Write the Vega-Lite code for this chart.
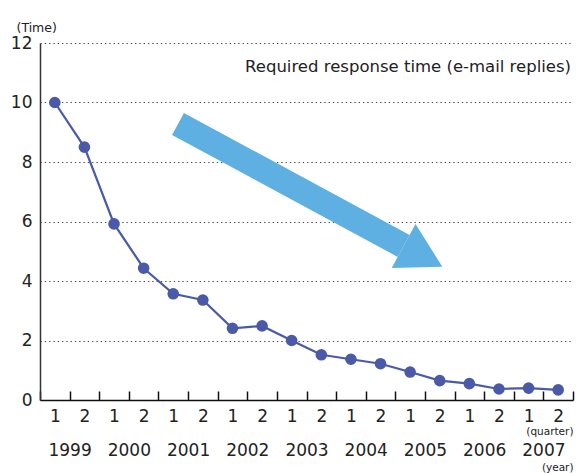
{
  "$schema": "https://vega.github.io/schema/vega-lite/v6.json",
  "width": 533,
  "height": 357,
  "autosize": "none",
  "padding": {"left": 40, "top": 43, "right": 8, "bottom": 73},
  "background": "white",
  "config": {"view": {"stroke": null}, "font": "DejaVu Sans"},
  "data": {"values": [
    {"i": 0, "year": 1999, "quarter": 1, "value": 10.0},
    {"i": 1, "year": 1999, "quarter": 2, "value": 8.5},
    {"i": 2, "year": 2000, "quarter": 1, "value": 5.92},
    {"i": 3, "year": 2000, "quarter": 2, "value": 4.43},
    {"i": 4, "year": 2001, "quarter": 1, "value": 3.57},
    {"i": 5, "year": 2001, "quarter": 2, "value": 3.36},
    {"i": 6, "year": 2002, "quarter": 1, "value": 2.41},
    {"i": 7, "year": 2002, "quarter": 2, "value": 2.49},
    {"i": 8, "year": 2003, "quarter": 1, "value": 2.0},
    {"i": 9, "year": 2003, "quarter": 2, "value": 1.52},
    {"i": 10, "year": 2004, "quarter": 1, "value": 1.37},
    {"i": 11, "year": 2004, "quarter": 2, "value": 1.22},
    {"i": 12, "year": 2005, "quarter": 1, "value": 0.94},
    {"i": 13, "year": 2005, "quarter": 2, "value": 0.65},
    {"i": 14, "year": 2006, "quarter": 1, "value": 0.55},
    {"i": 15, "year": 2006, "quarter": 2, "value": 0.37},
    {"i": 16, "year": 2007, "quarter": 1, "value": 0.4},
    {"i": 17, "year": 2007, "quarter": 2, "value": 0.34}
  ]},
  "resolve": {"axis": {"x": "independent", "y": "independent"}},
  "layer": [
    {
      "mark": {"type": "line", "color": "#4a5aa8", "strokeWidth": 2.2},
      "encoding": {
        "x": {
          "field": "i", "type": "quantitative",
          "scale": {"domain": [-0.5, 17.5], "nice": false, "zero": false},
          "axis": {
            "orient": "bottom",
            "values": [0,1,2,3,4,5,6,7,8,9,10,11,12,13,14,15,16,17],
            "labelExpr": "datum.value % 2 == 0 ? '1' : '2'",
            "grid": false, "ticks": false, "tickSize": 0,
            "domain": true, "domainColor": "#111", "domainWidth": 1.5,
            "labelFontSize": 17, "labelColor": "#222", "labelPadding": 8,
            "labelFlush": false, "labelOverlap": false,
            "title": "(quarter)", "titleFontSize": 10.5, "titleFontWeight": "normal",
            "titleColor": "#222", "titleAnchor": "end", "titleAlign": "right",
            "titleBaseline": "alphabetic", "titleX": 533, "titleY": 34
          }
        },
        "y": {
          "field": "value", "type": "quantitative",
          "scale": {"domain": [0, 12], "nice": false},
          "axis": {
            "orient": "left",
            "values": [0, 2, 4, 6, 8, 10, 12],
            "grid": true, "gridDash": [1.3, 3], "gridColor": "#444", "gridWidth": 1.2,
            "ticks": false, "tickSize": 0,
            "domain": true, "domainColor": "#333", "domainWidth": 1.5,
            "labelFontSize": 17, "labelColor": "#222", "labelPadding": 8,
            "labelFlush": false,
            "title": "(Time)", "titleFontSize": 12.5, "titleFontWeight": "normal",
            "titleColor": "#222", "titleAngle": 0, "titleAlign": "left",
            "titleBaseline": "alphabetic", "titleX": -24, "titleY": -12
          }
        }
      }
    },
    {
      "mark": {"type": "point", "filled": true, "color": "#4a5aa8", "opacity": 1, "size": 135},
      "encoding": {
        "x": {
          "field": "i", "type": "quantitative",
          "axis": {
            "orient": "bottom",
            "values": [0.5, 2.5, 4.5, 6.5, 8.5, 10.5, 12.5, 14.5, 16.5],
            "labelExpr": "1999 + (datum.value - 0.5) / 2",
            "grid": false, "ticks": false, "tickSize": 0, "domain": false,
            "labelFontSize": 17, "labelColor": "#222", "labelPadding": 42,
            "labelFlush": false, "labelOverlap": false,
            "title": "(year)", "titleFontSize": 10.5, "titleFontWeight": "normal",
            "titleColor": "#222", "titleAnchor": "end", "titleAlign": "right",
            "titleBaseline": "alphabetic", "titleX": 533, "titleY": 70
          }
        },
        "y": {"field": "value", "type": "quantitative", "axis": null}
      }
    },
    {
      "data": {"values": [{}]},
      "mark": {"type": "rule", "color": "#5eb0e2", "strokeWidth": 25, "strokeCap": "butt"},
      "encoding": {
        "x": {
          "datum": 4.16, "type": "quantitative",
          "axis": {
            "orient": "bottom",
            "values": [-0.5,0.5,1.5,2.5,3.5,4.5,5.5,6.5,7.5,8.5,9.5,10.5,11.5,12.5,13.5,14.5,15.5,16.5,17.5],
            "labels": false, "grid": false, "domain": false,
            "ticks": true, "tickSize": -9, "tickColor": "#111", "tickWidth": 1.5,
            "title": null
          }
        },
        "y": {"datum": 9.28, "type": "quantitative", "axis": null},
        "x2": {"datum": 11.78},
        "y2": {"datum": 5.18}
      }
    },
    {
      "data": {"values": [{}]},
      "mark": {"type": "point", "shape": "M0,-1 L1.76,0 L0,1 Z", "filled": true, "color": "#5eb0e2", "opacity": 1, "size": 2500, "angle": 28.4, "strokeWidth": 0},
      "encoding": {
        "x": {"datum": 11.78, "type": "quantitative", "axis": null},
        "y": {"datum": 5.18, "type": "quantitative", "axis": null}
      }
    },
    {
      "data": {"values": [{}]},
      "mark": {"type": "text", "text": "Required response time (e-mail replies)", "align": "right", "baseline": "alphabetic", "fontSize": 16.5, "color": "#222", "dx": -2},
      "encoding": {
        "x": {"datum": 17.5, "type": "quantitative", "axis": null},
        "y": {"datum": 11.02, "type": "quantitative", "axis": null}
      }
    }
  ]
}
